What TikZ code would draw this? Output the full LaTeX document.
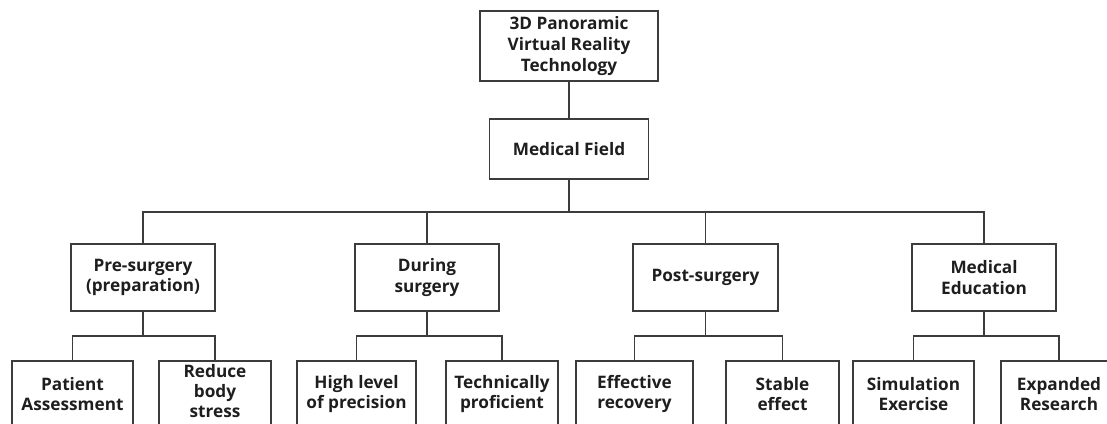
\documentclass[tikz,border=0pt]{standalone}
\usepackage{fontspec}
\setmainfont{Open Sans}
\begin{document}
\begin{tikzpicture}[x=1pt,y=-1pt,
  box/.style={draw=linegray, line width=1.3pt, align=center, inner sep=0pt,
    font=\bfseries\fontsize{17.2}{20.8}\selectfont, text=textgray},
  lbl/.style={align=center, inner sep=0pt, text=textgray,
    font=\bfseries\fontsize{17.2}{19.6}\selectfont},
  conn/.style={draw=linegray, line width=1.3pt}]
\definecolor{linegray}{HTML}{3C3C3C}
\definecolor{textgray}{HTML}{1E1E1E}
\useasboundingbox (0,0) rectangle (1107,423);
\clip (0,0) rectangle (1107,423);
\node[box, minimum width=178pt, minimum height=70pt] (top) at (569,46) {3D Panoramic\\Virtual Reality\\Technology};
\node[box, minimum width=159pt, minimum height=60pt] (mf) at (569,149) {Medical Field};
\node[box, minimum width=144pt, minimum height=67pt] (pre) at (143,277.5) {Pre-surgery\\(preparation)};
\node[box, minimum width=144pt, minimum height=67pt] (dur) at (427,277.5) {During\\surgery};
\node[box, minimum width=145pt, minimum height=67pt] (post) at (705.5,277.5) {Post-surgery};
\node[box, minimum width=144pt, minimum height=67pt] (edu) at (984,277.5) {Medical\\Education};
\node[box, minimum width=121pt, minimum height=66pt] (pa) at (72.5,394) {Patient\\Assessment};
\node[box, minimum width=112pt, minimum height=66pt] (rb) at (215,394) {};
\node[lbl] (rbt) at (215,391) {Reduce\\body\\stress};
\node[box, minimum width=119pt, minimum height=66pt] (hl) at (356.5,394) {High level\\of precision};
\node[box, minimum width=112pt, minimum height=66pt] (tp) at (502,394) {Technically\\proficient};
\node[box, minimum width=117pt, minimum height=66pt] (er) at (634.5,394) {Effective\\recovery};
\node[box, minimum width=113pt, minimum height=66pt] (se) at (782.5,394) {Stable\\effect};
\node[box, minimum width=121pt, minimum height=66pt] (sim) at (913.5,394) {Simulation\\Exercise};
\node[box, minimum width=116pt, minimum height=66pt] (exp) at (1059,394) {Expanded\\Research};
\coordinate (bus) at (0,212);
\coordinate (sub) at (0,336);
\draw[conn] (top.south) -- (mf.north);
\draw[conn] (mf.south) -- (mf.south |- bus);
\draw[conn] (pre.north) -- (pre.north |- bus) -- (edu.north |- bus) -- (edu.north);
\draw[conn] (dur.north) -- (dur.north |- bus);
\draw[conn] (post.north) -- (post.north |- bus);
\draw[conn] (pre.south) -- (pre.south |- sub);
\draw[conn] (pa.north) -- (pa.north |- sub) -- (rb.north |- sub) -- (rb.north);
\draw[conn] (dur.south) -- (dur.south |- sub);
\draw[conn] (hl.north) -- (hl.north |- sub) -- (tp.north |- sub) -- (tp.north);
\draw[conn] (post.south) -- (post.south |- sub);
\draw[conn] (er.north) -- (er.north |- sub) -- (se.north |- sub) -- (se.north);
\draw[conn] (edu.south) -- (edu.south |- sub);
\draw[conn] (sim.north) -- (sim.north |- sub) -- (exp.north |- sub) -- (exp.north);
\end{tikzpicture}
\end{document}
